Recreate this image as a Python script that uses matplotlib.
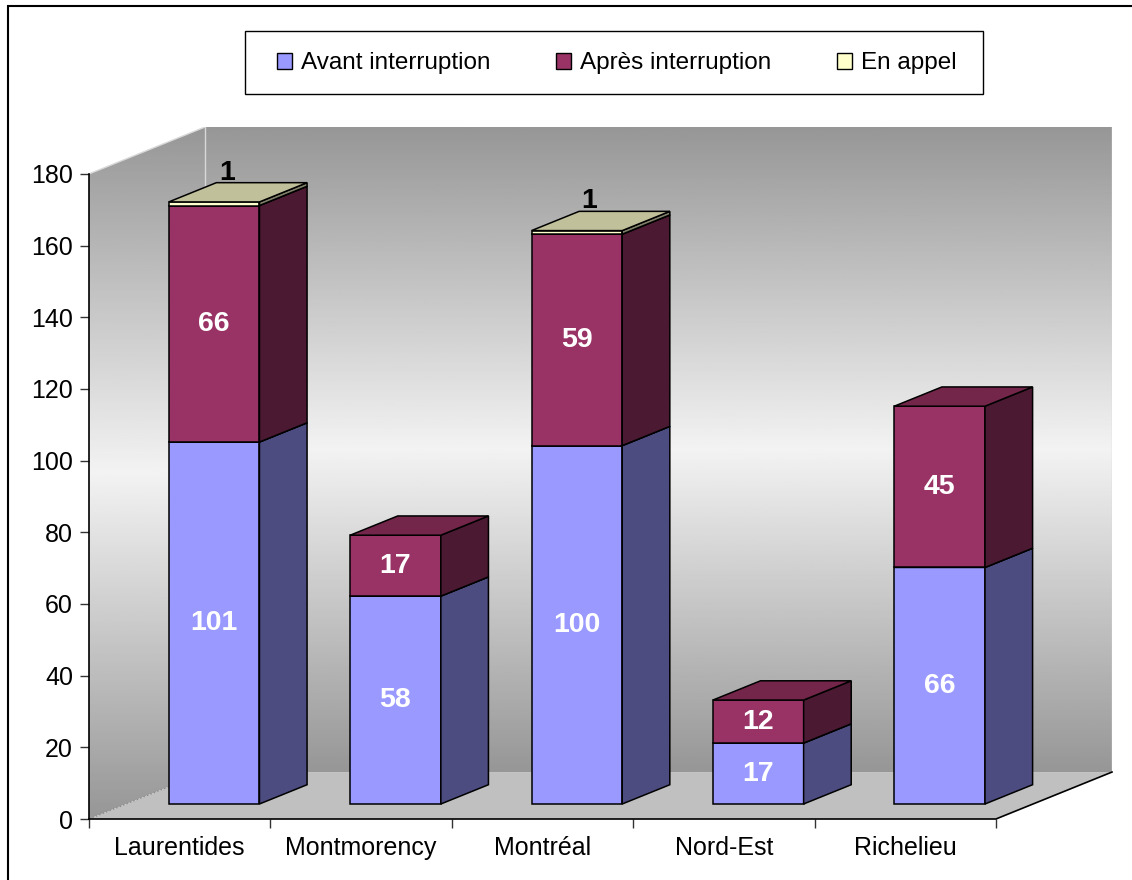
import matplotlib
matplotlib.use('Agg')
import matplotlib.pyplot as plt
import numpy as np
from matplotlib.patches import Polygon, Patch, Rectangle

regions = ['Laurentides', 'Montmorency', 'Montréal', 'Nord-Est', 'Richelieu']
avant = [101, 58, 100, 17, 66]
apres = [66, 17, 59, 12, 45]
en_appel = [1, 0, 1, 0, 0]
series_names = ['Avant interruption', 'Après interruption', 'En appel']

plt.rcParams['font.family'] = ['Liberation Sans', 'DejaVu Sans']

# front, side, top colour of each series
faces = [('#9999ff', '#4c4c80', '#7373bf'),
         ('#993366', '#4c1933', '#732649'),
         ('#ffffcc', '#80806a', '#c0c09a')]

DX, DY = 0.64, 13.1     # depth of the chart box in data units
F0, F1 = 0.32, 0.73     # front and back of the bars inside that depth
W = 0.5
YMAX = 180
N = len(regions)

fig = plt.figure(figsize=(11.32, 8.80), dpi=100)
ax = fig.add_axes([89/1132, 61/880, 1023/1132, 692/880])

# walls with a grey -> white -> grey gradient
grad = np.concatenate([np.linspace(0.59, 0.95, 128),
                       np.linspace(0.95, 0.59, 128)])[:, None]
ax.imshow(grad, cmap='gray', vmin=0, vmax=1, origin='lower', aspect='auto',
          extent=(DX, N + DX, DY, YMAX + DY), zorder=0)
side_img = ax.imshow(grad, cmap='gray', vmin=0, vmax=1, origin='lower',
                     aspect='auto', extent=(0, DX, 0, YMAX + DY), zorder=0)
left_wall = Polygon([(0, 0), (DX, DY), (DX, YMAX + DY), (0, YMAX)],
                    closed=True, fc='none', ec='none')
ax.add_patch(left_wall)
side_img.set_clip_path(left_wall)

floor = Polygon([(0, 0), (N, 0), (N + DX, DY), (DX, DY)], closed=True,
                fc='#c0c0c0', ec='none', zorder=1)
ax.add_patch(floor)

ax.plot([0, DX], [YMAX, YMAX + DY], color='#d8d8d8', lw=1, zorder=1)
ax.plot([DX, DX], [DY, YMAX + DY], color='#d8d8d8', lw=1, zorder=1)
ax.plot([N + DX, N + DX], [DY, YMAX + DY], color='#d8d8d8', lw=1, zorder=1)
ax.plot([0, DX], [0, DY], color='#8c8c8c', lw=1, ls=':', zorder=1)
ax.plot([0, N, N + DX], [0, 0, DY], color='black', lw=1.2, zorder=2,
        clip_on=False)
ax.plot([0, 0], [0, YMAX], color='black', lw=1.2, zorder=2, clip_on=False)

# stacked 3-D bars
x = np.arange(N) + 0.235
bottom = np.zeros(N)
for k, vals in enumerate([avant, apres, en_appel]):
    vals = np.array(vals, dtype=float)
    front, sidec, topc = faces[k]
    idx = np.where(vals > 0)[0]
    z = 3 + k
    ax.bar(x[idx] + F0 * DX, vals[idx], width=W, bottom=bottom[idx] + F0 * DY,
           align='edge', color=front, edgecolor='black', linewidth=1.1, zorder=z)
    for i in idx:
        xl, xr = x[i], x[i] + W
        b, t = bottom[i], bottom[i] + vals[i]
        side = [(xr + F0 * DX, b + F0 * DY), (xr + F1 * DX, b + F1 * DY),
                (xr + F1 * DX, t + F1 * DY), (xr + F0 * DX, t + F0 * DY)]
        top = [(xl + F0 * DX, t + F0 * DY), (xl + F1 * DX, t + F1 * DY),
               (xr + F1 * DX, t + F1 * DY), (xr + F0 * DX, t + F0 * DY)]
        ax.add_patch(Polygon(side, closed=True, fc=sidec, ec='black',
                             lw=1.1, zorder=z))
        ax.add_patch(Polygon(top, closed=True, fc=topc, ec='black',
                             lw=1.1, zorder=z))
        cx = xl + W / 2 + F0 * DX
        if k < 2:
            ax.text(cx, b + vals[i] / 2 + F0 * DY, f'{vals[i]:.0f}',
                    ha='center', va='center', color='white',
                    fontsize=20.5, fontweight='bold', zorder=10)
        else:
            ax.text(cx + 0.07, t + F0 * DY + 8.2, f'{vals[i]:.0f}',
                    ha='center', va='center', color='black',
                    fontsize=20.5, fontweight='bold', zorder=2.5)
    bottom += vals

ax.set_xlim(0, N + DX)
ax.set_ylim(0, YMAX + DY)
for sp in ax.spines.values():
    sp.set_visible(False)

ax.set_yticks(range(0, YMAX + 1, 20))
ax.tick_params(axis='y', length=6.5, width=1, pad=5, labelsize=18,
               color='#333333')
ax.set_xticks(range(N + 1))
ax.set_xticklabels([''] * (N + 1))
ax.set_xticks(np.arange(N) + 0.5, minor=True)
ax.set_xticklabels(regions, minor=True)
ax.tick_params(axis='x', which='major', length=6.5, width=1, color='#333333')
ax.tick_params(axis='x', which='minor', length=0, pad=12, labelsize=18)

# legend entries without frame, box drawn separately
handles = [Patch(facecolor=f[0], edgecolor='black', linewidth=1) for f in faces]
leg = fig.legend(handles, series_names, loc='center left',
                 bbox_to_anchor=(277/1132, 1 - 63.4/880), ncol=3,
                 fontsize=17.5, frameon=False, borderpad=0,
                 handlelength=0.62, handleheight=0.62, handletextpad=0.38,
                 columnspacing=2.68, borderaxespad=0)
fig.add_artist(Rectangle((245/1132, 1 - 94/880), 738/1132, 63/880,
                         transform=fig.transFigure, fc='white',
                         ec='black', lw=1, zorder=0))

fig.add_artist(Rectangle((8/1132, -0.1), 1.2, 1.1 - 6/880,
                         transform=fig.transFigure, fill=False,
                         ec='black', lw=1.5))

fig.savefig('out.png', dpi=100)
